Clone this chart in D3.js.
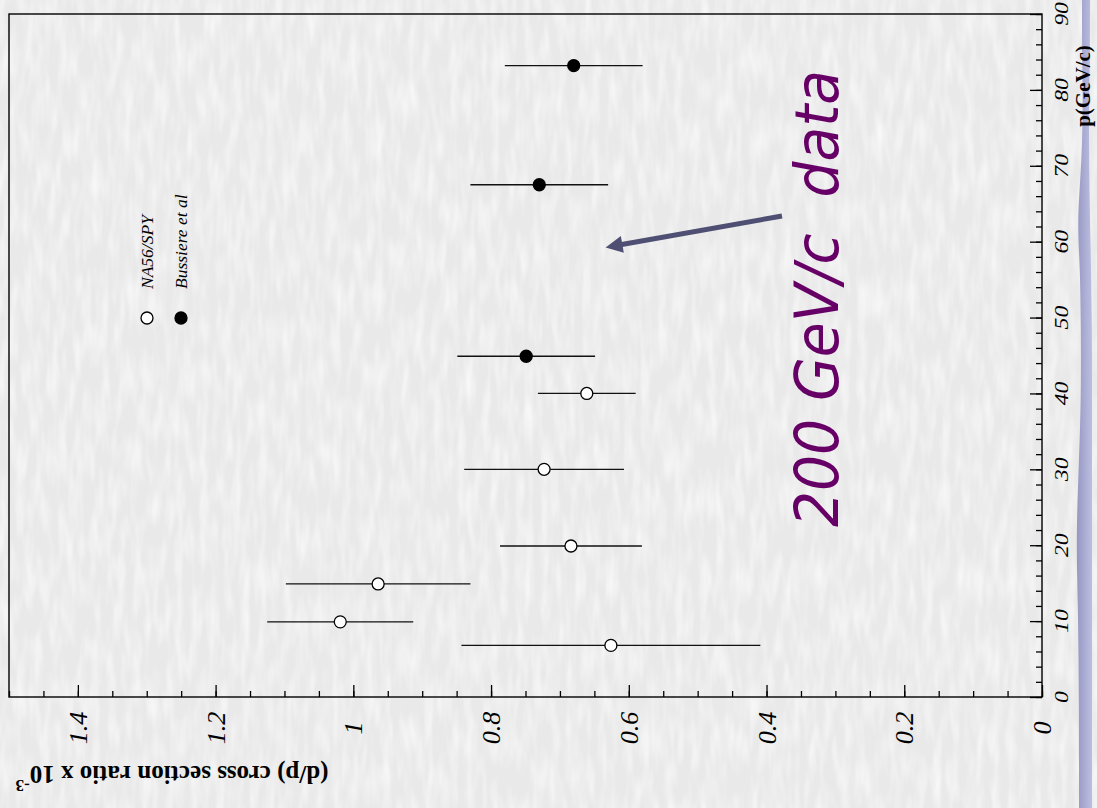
<!DOCTYPE html>
<html>
<head>
<meta charset="utf-8">
<script src="https://cdn.jsdelivr.net/npm/d3@7"></script>
<style>
  html, body { margin: 0; padding: 0; background: #ececec; overflow: hidden; }
  svg { display: block; }
</style>
</head>
<body>
<svg id="chart" width="1097" height="808"></svg>
<script>
// d/p cross section ratio (x 10^-3) versus momentum p (GeV/c)
const na56P      = [6.8, 9.9, 14.9, 19.9, 30.0, 40.0];
const na56Ratio  = [0.626, 1.019, 0.964, 0.684, 0.723, 0.661];
const na56Err    = [0.217, 0.106, 0.134, 0.103, 0.116, 0.071];

const bussiereP     = [44.9, 67.5, 83.2];
const bussiereRatio = [0.749, 0.730, 0.680];
const bussiereErr   = [0.100, 0.100, 0.100];

const seriesNames = ["NA56/SPY", "Bussiere et al"];
const ratioTicks = [0, 0.2, 0.4, 0.6, 0.8, 1, 1.2, 1.4];
const pTicks = [0, 10, 20, 30, 40, 50, 60, 70, 80, 90];
const annotation = "200 GeV/c  data";

const svg = d3.select("#chart");
const W = 1097, H = 808;
const defs = svg.append("defs");

// slide background: light grey with a fine, faint grain
const tex = defs.append("filter").attr("id", "paper")
  .attr("x", 0).attr("y", 0).attr("width", 1).attr("height", 1);
tex.append("feTurbulence").attr("type", "fractalNoise")
  .attr("baseFrequency", "0.12 0.025").attr("numOctaves", 2).attr("seed", 11);
tex.append("feColorMatrix").attr("type", "matrix")
  .attr("values", "0 0 0 0 1  0 0 0 0 1  0 0 0 0 1  1.2 0 0 0 -0.45");
svg.append("rect").attr("width", W).attr("height", H).attr("fill", "#e9e9e9");
svg.append("rect").attr("width", W).attr("height", H).attr("fill", "#fff")
  .attr("filter", "url(#paper)");

// decorative stripe on the right edge
const stripeGrad = defs.append("linearGradient").attr("id", "stripeGrad")
  .attr("x1", 0).attr("x2", 1).attr("y1", 0).attr("y2", 0);
stripeGrad.append("stop").attr("offset", 0).attr("stop-color", "#9597c2");
stripeGrad.append("stop").attr("offset", 0.5).attr("stop-color", "#aaacd3");
stripeGrad.append("stop").attr("offset", 1).attr("stop-color", "#bcbee0");
const stripePts = [[0, 1082, 1090], [50, 1082, 1090], [100, 1083, 1089], [160, 1082, 1089],
                   [220, 1077, 1090], [265, 1080, 1091], [330, 1081, 1092], [400, 1081, 1092],
                   [460, 1079, 1092], [540, 1076, 1092], [600, 1078, 1092], [700, 1079, 1092],
                   [808, 1079, 1092]];
svg.append("path")
  .attr("d", d3.area().curve(d3.curveBasis)
    .x0(d => d[1]).x1(d => d[2]).y0(d => d[0]).y1(d => d[0])(stripePts))
  .attr("fill", "url(#stripeGrad)");

// The plot is drawn rotated: ratio runs right-to-left along the bottom,
// momentum runs bottom-to-top along the right edge.
const x = d3.scaleLinear().domain([0, 1.5]).range([1042, 9]);
const y = d3.scaleLinear().domain([0, 90]).range([697, 14]);

// frame
svg.append("rect")
  .attr("x", x(1.5)).attr("y", y(90))
  .attr("width", x(0) - x(1.5)).attr("height", y(0) - y(90))
  .attr("fill", "none").attr("stroke", "#000").attr("stroke-width", 1.4);

// ratio axis ticks (bottom, pointing inward)
const minorR = d3.range(0, 1.5001, 0.05);
const gx = svg.append("g").attr("transform", `translate(0,${y(0)})`);
gx.call(d3.axisBottom(x).tickValues(minorR).tickSize(-6).tickFormat(""));
gx.call(g => g.append("g").call(d3.axisBottom(x).tickValues(ratioTicks).tickSize(-12).tickFormat("")));
gx.selectAll(".domain").remove();
gx.selectAll("line").attr("stroke", "#000").attr("stroke-width", 1.3);

// momentum axis ticks (right, pointing inward)
const minorP = d3.range(0, 90.001, 2);
const gy = svg.append("g").attr("transform", `translate(${x(0)},0)`);
gy.call(d3.axisRight(y).tickValues(minorP).tickSize(-6).tickFormat(""));
gy.call(g => g.append("g").call(d3.axisRight(y).tickValues(pTicks).tickSize(-12).tickFormat("")));
gy.selectAll(".domain").remove();
gy.selectAll("line").attr("stroke", "#000").attr("stroke-width", 1.3);

// tick labels
const serif = "'Liberation Serif', 'Times New Roman', serif";
svg.append("g").selectAll("text").data(ratioTicks).join("text")
  .attr("transform", d => `translate(${x(d) + 9},728) rotate(-90)`)
  .attr("text-anchor", "middle")
  .attr("font-family", serif).attr("font-style", "italic")
  .attr("font-size", 26).attr("fill", "#000")
  .text(d => String(d));

svg.append("g").selectAll("text").data(pTicks).join("text")
  .attr("transform", d => `translate(1068,${y(d)}) rotate(-90) scale(1.25,1)`)
  .attr("text-anchor", "middle")
  .attr("font-family", serif).attr("font-style", "italic")
  .attr("font-size", 19).attr("fill", "#000")
  .text(d => String(d));

// axis titles
const rt = svg.append("text")
  .attr("transform", "translate(172,766) rotate(180)")
  .attr("text-anchor", "middle")
  .attr("font-family", serif).attr("font-weight", "bold")
  .attr("font-size", 25).attr("fill", "#000");
rt.append("tspan").text("(d/p) cross section ratio x 10");
rt.append("tspan").attr("dy", -14).attr("font-size", 17).text("-3");

svg.append("text")
  .attr("transform", "translate(1090,86) rotate(-90)")
  .attr("text-anchor", "middle")
  .attr("font-family", serif).attr("font-weight", "bold")
  .attr("font-size", 21).attr("fill", "#000")
  .text("p(GeV/c)");

// data with error bars
function drawSeries(ps, rs, es, filled) {
  const data = ps.map((p, i) => ({ p, r: rs[i], e: es[i] }));
  const g = svg.append("g");
  g.selectAll("line").data(data).join("line")
    .attr("x1", d => x(d.r + d.e)).attr("x2", d => x(d.r - d.e))
    .attr("y1", d => y(d.p)).attr("y2", d => y(d.p))
    .attr("stroke", "#111").attr("stroke-width", 1.3);
  g.selectAll("circle").data(data).join("circle")
    .attr("cx", d => x(d.r)).attr("cy", d => y(d.p))
    .attr("r", 6)
    .attr("fill", filled ? "#000" : "#fff")
    .attr("stroke", "#000").attr("stroke-width", 1.3);
}
drawSeries(na56P, na56Ratio, na56Err, false);
drawSeries(bussiereP, bussiereRatio, bussiereErr, true);

// legend
const legend = svg.append("g");
seriesNames.forEach((name, i) => {
  const lx = 147 + i * 34;
  legend.append("circle").attr("cx", lx).attr("cy", 318).attr("r", 6)
    .attr("fill", i === 0 ? "#fff" : "#000").attr("stroke", "#000").attr("stroke-width", 1.3);
  legend.append("text")
    .attr("transform", `translate(${lx + 6},289) rotate(-90)`)
    .attr("font-family", serif).attr("font-style", "italic")
    .attr("font-size", 17.5).attr("fill", "#000")
    .text(name);
});

// annotation arrow and label
defs.append("marker")
  .attr("id", "arrowHead").attr("viewBox", "0 0 10 10")
  .attr("refX", 2).attr("refY", 5)
  .attr("markerWidth", 4.2).attr("markerHeight", 3.4)
  .attr("orient", "auto")
  .append("path").attr("d", "M0,0 L10,5 L0,10 z").attr("fill", "#4f4f73");

svg.append("line")
  .attr("x1", 782).attr("y1", 216).attr("x2", 619).attr("y2", 245)
  .attr("stroke", "#4f4f73").attr("stroke-width", 5)
  .attr("marker-end", "url(#arrowHead)");

svg.append("text")
  .attr("transform", "translate(838,527) rotate(-90)")
  .attr("font-family", "'DejaVu Sans', Verdana, sans-serif").attr("font-style", "italic")
  .attr("font-size", 60).attr("fill", "#660066")
  .attr("textLength", 457).attr("lengthAdjust", "spacingAndGlyphs")
  .style("white-space", "pre")
  .text(annotation);
</script>
</body>
</html>
